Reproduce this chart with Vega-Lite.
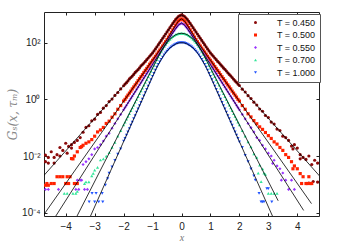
{
"$schema": "https://vega.github.io/schema/vega-lite/v6.json",
"width": 275, "height": 204,
"autosize": {"type": "none"},
"padding": {"left": 44, "top": 12, "right": 21, "bottom": 28},
"background": "white",
"config": {"view": {"stroke": "#222", "strokeWidth": 1}},
"datasets": {
"pts": [
{"T":"T = 0.450","x":-4.7,"G":0.0107},{"T":"T = 0.450","x":-4.7,"G":0.00631},{"T":"T = 0.450","x":-4.6,"G":0.00891},{"T":"T = 0.450","x":-4.6,"G":0.00562},{"T":"T = 0.450","x":-4.5,"G":0.0141},{"T":"T = 0.450","x":-4.4,"G":0.00891},{"T":"T = 0.450","x":-4.4,"G":0.00562},{"T":"T = 0.450","x":-4.3,"G":0.0112},{"T":"T = 0.450","x":-4.2,"G":0.02},{"T":"T = 0.450","x":-4.2,"G":0.01},{"T":"T = 0.450","x":-4.1,"G":0.0158},{"T":"T = 0.450","x":-4.0,"G":0.0282},{"T":"T = 0.450","x":-3.95,"G":0.0126},{"T":"T = 0.450","x":-3.9,"G":0.0219},{"T":"T = 0.450","x":-3.8,"G":0.0251},{"T":"T = 0.450","x":-3.8,"G":0.0191},{"T":"T = 0.450","x":-3.7,"G":0.0302},{"T":"T = 0.450","x":-3.6,"G":0.0355},{"T":"T = 0.450","x":-3.5,"G":0.0447},{"T":"T = 0.450","x":-3.4,"G":0.0692},{"T":"T = 0.450","x":-3.3,"G":0.102},{"T":"T = 0.450","x":-3.2,"G":0.117},{"T":"T = 0.450","x":-3.1,"G":0.174},{"T":"T = 0.450","x":-3.0,"G":0.2},{"T":"T = 0.450","x":-2.9,"G":0.295},{"T":"T = 0.450","x":-2.8,"G":0.347},{"T":"T = 0.450","x":-2.7,"G":0.49},{"T":"T = 0.450","x":-2.6,"G":0.603},{"T":"T = 0.450","x":-2.5,"G":0.832},{"T":"T = 0.450","x":-2.4,"G":1.02},{"T":"T = 0.450","x":-2.3,"G":1.38},{"T":"T = 0.450","x":-2.2,"G":1.74},{"T":"T = 0.450","x":-2.1,"G":2.34},{"T":"T = 0.450","x":-2.0,"G":3.02},{"T":"T = 0.450","x":-1.9,"G":3.89},{"T":"T = 0.450","x":-1.8,"G":5.25},{"T":"T = 0.450","x":-1.7,"G":6.61},{"T":"T = 0.450","x":-1.6,"G":8.91},{"T":"T = 0.450","x":-1.5,"G":11.2},{"T":"T = 0.450","x":-1.4,"G":15.1},{"T":"T = 0.450","x":-1.3,"G":19.1},{"T":"T = 0.450","x":-1.2,"G":25.1},{"T":"T = 0.450","x":-1.1,"G":33.1},{"T":"T = 0.450","x":-1.0,"G":43.7},{"T":"T = 0.450","x":-0.9,"G":60.3},{"T":"T = 0.450","x":-0.8,"G":85.1},{"T":"T = 0.450","x":-0.7,"G":120},{"T":"T = 0.450","x":-0.6,"G":170},{"T":"T = 0.450","x":-0.5,"G":240},{"T":"T = 0.450","x":-0.4,"G":339},{"T":"T = 0.450","x":-0.3,"G":479},{"T":"T = 0.450","x":-0.2,"G":661},{"T":"T = 0.450","x":-0.1,"G":851},{"T":"T = 0.450","x":0,"G":955},{"T":"T = 0.450","x":0.1,"G":851},{"T":"T = 0.450","x":0.2,"G":661},{"T":"T = 0.450","x":0.3,"G":479},{"T":"T = 0.450","x":0.4,"G":339},{"T":"T = 0.450","x":0.5,"G":240},{"T":"T = 0.450","x":0.6,"G":170},{"T":"T = 0.450","x":0.7,"G":120},{"T":"T = 0.450","x":0.8,"G":85.1},{"T":"T = 0.450","x":0.9,"G":60.3},{"T":"T = 0.450","x":1.0,"G":43.7},{"T":"T = 0.450","x":1.1,"G":33.1},{"T":"T = 0.450","x":1.2,"G":25.1},{"T":"T = 0.450","x":1.3,"G":19.5},{"T":"T = 0.450","x":1.4,"G":14.8},{"T":"T = 0.450","x":1.5,"G":11.5},{"T":"T = 0.450","x":1.6,"G":8.71},{"T":"T = 0.450","x":1.7,"G":6.76},{"T":"T = 0.450","x":1.8,"G":5.13},{"T":"T = 0.450","x":1.9,"G":3.98},{"T":"T = 0.450","x":2.0,"G":3.09},{"T":"T = 0.450","x":2.1,"G":2.29},{"T":"T = 0.450","x":2.2,"G":1.82},{"T":"T = 0.450","x":2.3,"G":1.35},{"T":"T = 0.450","x":2.4,"G":1.07},{"T":"T = 0.450","x":2.5,"G":0.794},{"T":"T = 0.450","x":2.6,"G":0.631},{"T":"T = 0.450","x":2.7,"G":0.457},{"T":"T = 0.450","x":2.8,"G":0.38},{"T":"T = 0.450","x":2.9,"G":0.269},{"T":"T = 0.450","x":3.0,"G":0.229},{"T":"T = 0.450","x":3.1,"G":0.158},{"T":"T = 0.450","x":3.2,"G":0.135},{"T":"T = 0.450","x":3.3,"G":0.0891},{"T":"T = 0.450","x":3.4,"G":0.0794},{"T":"T = 0.450","x":3.5,"G":0.0501},{"T":"T = 0.450","x":3.6,"G":0.0447},{"T":"T = 0.450","x":3.7,"G":0.0355},{"T":"T = 0.450","x":3.8,"G":0.0224},{"T":"T = 0.450","x":3.85,"G":0.0178},{"T":"T = 0.450","x":3.9,"G":0.0251},{"T":"T = 0.450","x":4.0,"G":0.0191},{"T":"T = 0.450","x":4.1,"G":0.0112},{"T":"T = 0.450","x":4.1,"G":0.00794},{"T":"T = 0.450","x":4.2,"G":0.00891},{"T":"T = 0.450","x":4.3,"G":0.00759},{"T":"T = 0.450","x":4.4,"G":0.01},{"T":"T = 0.450","x":4.4,"G":0.00112},{"T":"T = 0.450","x":4.5,"G":0.00501},{"T":"T = 0.450","x":4.55,"G":0.00126},{"T":"T = 0.450","x":4.6,"G":0.00708},{"T":"T = 0.450","x":4.7,"G":0.00562},{"T":"T = 0.450","x":4.7,"G":0.0012},
{"T":"T = 0.450","x":0.05,"G":912},{"T":"T = 0.450","x":0.15,"G":759},{"T":"T = 0.450","x":0.25,"G":562},{"T":"T = 0.450","x":0.35,"G":403},{"T":"T = 0.450","x":0.45,"G":285},{"T":"T = 0.450","x":0.55,"G":202},{"T":"T = 0.450","x":0.65,"G":143},{"T":"T = 0.450","x":0.75,"G":101},{"T":"T = 0.450","x":0.85,"G":71.6},{"T":"T = 0.450","x":0.95,"G":51.3},{"T":"T = 0.450","x":1.05,"G":38.0},{"T":"T = 0.450","x":1.15,"G":28.8},{"T":"T = 0.450","x":1.25,"G":21.9},{"T":"T = 0.450","x":1.35,"G":17.0},{"T":"T = 0.450","x":1.45,"G":12.9},{"T":"T = 0.450","x":1.55,"G":10.0},{"T":"T = 0.450","x":1.65,"G":7.59},{"T":"T = 0.450","x":1.75,"G":5.89},{"T":"T = 0.450","x":1.85,"G":4.47},{"T":"T = 0.450","x":1.95,"G":3.47},
{"T":"T = 0.450","x":-0.05,"G":912},{"T":"T = 0.450","x":-0.15,"G":759},{"T":"T = 0.450","x":-0.25,"G":562},{"T":"T = 0.450","x":-0.35,"G":403},{"T":"T = 0.450","x":-0.45,"G":285},{"T":"T = 0.450","x":-0.55,"G":202},{"T":"T = 0.450","x":-0.65,"G":143},{"T":"T = 0.450","x":-0.75,"G":101},{"T":"T = 0.450","x":-0.85,"G":71.6},{"T":"T = 0.450","x":-0.95,"G":51.3},{"T":"T = 0.450","x":-1.05,"G":38.0},{"T":"T = 0.450","x":-1.15,"G":28.8},{"T":"T = 0.450","x":-1.25,"G":21.9},{"T":"T = 0.450","x":-1.35,"G":17.0},{"T":"T = 0.450","x":-1.45,"G":12.9},{"T":"T = 0.450","x":-1.55,"G":10.0},{"T":"T = 0.450","x":-1.65,"G":7.59},{"T":"T = 0.450","x":-1.75,"G":5.89},{"T":"T = 0.450","x":-1.85,"G":4.47},{"T":"T = 0.450","x":-1.95,"G":3.47},
{"T":"T = 0.500","x":-4.7,"G":0.00093},{"T":"T = 0.500","x":-4.65,"G":0.00107},{"T":"T = 0.500","x":-4.6,"G":0.00093},{"T":"T = 0.500","x":-4.5,"G":0.00107},{"T":"T = 0.500","x":-4.4,"G":0.00107},{"T":"T = 0.500","x":-4.3,"G":0.00186},{"T":"T = 0.500","x":-4.2,"G":0.00186},{"T":"T = 0.500","x":-4.1,"G":0.00186},{"T":"T = 0.500","x":-4.0,"G":0.00107},{"T":"T = 0.500","x":-3.95,"G":0.00186},{"T":"T = 0.500","x":-3.9,"G":0.00107},{"T":"T = 0.500","x":-3.85,"G":0.00186},{"T":"T = 0.500","x":-3.7,"G":0.00107},{"T":"T = 0.500","x":-3.6,"G":0.00107},{"T":"T = 0.500","x":-3.8,"G":0.00813},{"T":"T = 0.500","x":-3.75,"G":0.00794},{"T":"T = 0.500","x":-3.7,"G":0.01},{"T":"T = 0.500","x":-3.6,"G":0.0141},{"T":"T = 0.500","x":-3.5,"G":0.02},{"T":"T = 0.500","x":-3.45,"G":0.0214},{"T":"T = 0.500","x":-3.4,"G":0.024},{"T":"T = 0.500","x":-3.3,"G":0.0282},{"T":"T = 0.500","x":-3.2,"G":0.0316},{"T":"T = 0.500","x":-3.1,"G":0.038},{"T":"T = 0.500","x":-3.0,"G":0.0501},{"T":"T = 0.500","x":-2.9,"G":0.0708},{"T":"T = 0.500","x":-2.8,"G":0.0832},{"T":"T = 0.500","x":-2.7,"G":0.102},{"T":"T = 0.500","x":-2.6,"G":0.141},{"T":"T = 0.500","x":-2.5,"G":0.17},{"T":"T = 0.500","x":-2.4,"G":0.234},{"T":"T = 0.500","x":-2.3,"G":0.309},{"T":"T = 0.500","x":-2.2,"G":0.447},{"T":"T = 0.500","x":-2.1,"G":0.603},{"T":"T = 0.500","x":-2.0,"G":0.871},{"T":"T = 0.500","x":-1.9,"G":1.2},{"T":"T = 0.500","x":-1.8,"G":1.66},{"T":"T = 0.500","x":-1.7,"G":2.34},{"T":"T = 0.500","x":-1.6,"G":3.24},{"T":"T = 0.500","x":-1.5,"G":4.57},{"T":"T = 0.500","x":-1.4,"G":6.31},{"T":"T = 0.500","x":-1.3,"G":8.91},{"T":"T = 0.500","x":-1.2,"G":12.3},{"T":"T = 0.500","x":-1.1,"G":17.4},{"T":"T = 0.500","x":-1.0,"G":24.0},{"T":"T = 0.500","x":-0.9,"G":33.1},{"T":"T = 0.500","x":-0.8,"G":46.8},{"T":"T = 0.500","x":-0.7,"G":64.6},{"T":"T = 0.500","x":-0.6,"G":91.2},{"T":"T = 0.500","x":-0.5,"G":129},{"T":"T = 0.500","x":-0.4,"G":191},{"T":"T = 0.500","x":-0.3,"G":282},{"T":"T = 0.500","x":-0.2,"G":417},{"T":"T = 0.500","x":-0.1,"G":589},{"T":"T = 0.500","x":0,"G":692},{"T":"T = 0.500","x":0.1,"G":589},{"T":"T = 0.500","x":0.2,"G":417},{"T":"T = 0.500","x":0.3,"G":282},{"T":"T = 0.500","x":0.4,"G":191},{"T":"T = 0.500","x":0.5,"G":129},{"T":"T = 0.500","x":0.6,"G":91.2},{"T":"T = 0.500","x":0.7,"G":64.6},{"T":"T = 0.500","x":0.8,"G":46.8},{"T":"T = 0.500","x":0.9,"G":33.1},{"T":"T = 0.500","x":1.0,"G":24.0},{"T":"T = 0.500","x":1.1,"G":17.4},{"T":"T = 0.500","x":1.2,"G":12.3},{"T":"T = 0.500","x":1.3,"G":8.91},{"T":"T = 0.500","x":1.4,"G":6.31},{"T":"T = 0.500","x":1.5,"G":4.57},{"T":"T = 0.500","x":1.6,"G":3.24},{"T":"T = 0.500","x":1.7,"G":2.34},{"T":"T = 0.500","x":1.8,"G":1.66},{"T":"T = 0.500","x":1.9,"G":1.2},{"T":"T = 0.500","x":2.0,"G":0.871},{"T":"T = 0.500","x":2.1,"G":0.603},{"T":"T = 0.500","x":2.2,"G":0.447},{"T":"T = 0.500","x":2.3,"G":0.309},{"T":"T = 0.500","x":2.4,"G":0.24},{"T":"T = 0.500","x":2.5,"G":0.178},{"T":"T = 0.500","x":2.6,"G":0.138},{"T":"T = 0.500","x":2.7,"G":0.107},{"T":"T = 0.500","x":2.8,"G":0.0871},{"T":"T = 0.500","x":2.9,"G":0.0676},{"T":"T = 0.500","x":3.0,"G":0.0525},{"T":"T = 0.500","x":3.1,"G":0.0417},{"T":"T = 0.500","x":3.2,"G":0.0316},{"T":"T = 0.500","x":3.3,"G":0.0263},{"T":"T = 0.500","x":3.4,"G":0.02},{"T":"T = 0.500","x":3.5,"G":0.0158},{"T":"T = 0.500","x":3.6,"G":0.0112},{"T":"T = 0.500","x":3.7,"G":0.00891},{"T":"T = 0.500","x":3.8,"G":0.00631},{"T":"T = 0.500","x":3.85,"G":0.00355},{"T":"T = 0.500","x":3.9,"G":0.00447},{"T":"T = 0.500","x":4.0,"G":0.00355},{"T":"T = 0.500","x":4.1,"G":0.0024},{"T":"T = 0.500","x":4.15,"G":0.00107},{"T":"T = 0.500","x":4.2,"G":0.00186},{"T":"T = 0.500","x":4.3,"G":0.00107},{"T":"T = 0.500","x":4.35,"G":0.00107},{"T":"T = 0.500","x":4.4,"G":0.00186},{"T":"T = 0.500","x":4.45,"G":0.00107},{"T":"T = 0.500","x":4.5,"G":0.00107},
{"T":"T = 0.500","x":0.05,"G":646},{"T":"T = 0.500","x":0.15,"G":501},{"T":"T = 0.500","x":0.25,"G":343},{"T":"T = 0.500","x":0.35,"G":232},{"T":"T = 0.500","x":0.45,"G":157},{"T":"T = 0.500","x":0.55,"G":108},{"T":"T = 0.500","x":0.65,"G":76.7},{"T":"T = 0.500","x":0.75,"G":55.0},{"T":"T = 0.500","x":0.85,"G":39.4},{"T":"T = 0.500","x":0.95,"G":28.2},{"T":"T = 0.500","x":1.05,"G":20.4},{"T":"T = 0.500","x":1.15,"G":14.5},{"T":"T = 0.500","x":1.25,"G":10.5},{"T":"T = 0.500","x":1.35,"G":7.41},{"T":"T = 0.500","x":1.45,"G":5.37},{"T":"T = 0.500","x":1.55,"G":3.8},{"T":"T = 0.500","x":1.65,"G":2.75},{"T":"T = 0.500","x":1.75,"G":1.95},{"T":"T = 0.500","x":1.85,"G":1.41},{"T":"T = 0.500","x":1.95,"G":1.0},
{"T":"T = 0.500","x":-0.05,"G":646},{"T":"T = 0.500","x":-0.15,"G":501},{"T":"T = 0.500","x":-0.25,"G":343},{"T":"T = 0.500","x":-0.35,"G":232},{"T":"T = 0.500","x":-0.45,"G":157},{"T":"T = 0.500","x":-0.55,"G":108},{"T":"T = 0.500","x":-0.65,"G":76.7},{"T":"T = 0.500","x":-0.75,"G":55.0},{"T":"T = 0.500","x":-0.85,"G":39.4},{"T":"T = 0.500","x":-0.95,"G":28.2},{"T":"T = 0.500","x":-1.05,"G":20.4},{"T":"T = 0.500","x":-1.15,"G":14.5},{"T":"T = 0.500","x":-1.25,"G":10.5},{"T":"T = 0.500","x":-1.35,"G":7.41},{"T":"T = 0.500","x":-1.45,"G":5.37},{"T":"T = 0.500","x":-1.55,"G":3.8},{"T":"T = 0.500","x":-1.65,"G":2.75},{"T":"T = 0.500","x":-1.75,"G":1.95},{"T":"T = 0.500","x":-1.85,"G":1.41},{"T":"T = 0.500","x":-1.95,"G":1.0},
{"T":"T = 0.550","x":-4.7,"G":0.000661},{"T":"T = 0.550","x":-4.6,"G":0.000661},{"T":"T = 0.550","x":-4.25,"G":0.000661},{"T":"T = 0.550","x":-3.65,"G":0.000661},{"T":"T = 0.550","x":-3.55,"G":0.000661},{"T":"T = 0.550","x":-3.35,"G":0.000661},{"T":"T = 0.550","x":-3.25,"G":0.000661},{"T":"T = 0.550","x":-3.6,"G":0.00141},{"T":"T = 0.550","x":-3.5,"G":0.00141},{"T":"T = 0.550","x":-3.45,"G":0.00141},{"T":"T = 0.550","x":-3.4,"G":0.00501},{"T":"T = 0.550","x":-3.3,"G":0.00631},{"T":"T = 0.550","x":-3.2,"G":0.00794},{"T":"T = 0.550","x":-3.1,"G":0.0112},{"T":"T = 0.550","x":-3.0,"G":0.0178},{"T":"T = 0.550","x":-2.9,"G":0.02},{"T":"T = 0.550","x":-2.8,"G":0.0251},{"T":"T = 0.550","x":-2.7,"G":0.0339},{"T":"T = 0.550","x":-2.6,"G":0.0501},{"T":"T = 0.550","x":-2.5,"G":0.0631},{"T":"T = 0.550","x":-2.4,"G":0.0955},{"T":"T = 0.550","x":-2.3,"G":0.141},{"T":"T = 0.550","x":-2.2,"G":0.204},{"T":"T = 0.550","x":-2.1,"G":0.295},{"T":"T = 0.550","x":-2.0,"G":0.427},{"T":"T = 0.550","x":-1.9,"G":0.617},{"T":"T = 0.550","x":-1.8,"G":0.891},{"T":"T = 0.550","x":-1.7,"G":1.29},{"T":"T = 0.550","x":-1.6,"G":1.86},{"T":"T = 0.550","x":-1.5,"G":2.69},{"T":"T = 0.550","x":-1.4,"G":3.89},{"T":"T = 0.550","x":-1.3,"G":5.62},{"T":"T = 0.550","x":-1.2,"G":8.13},{"T":"T = 0.550","x":-1.1,"G":11.7},{"T":"T = 0.550","x":-1.0,"G":17.0},{"T":"T = 0.550","x":-0.9,"G":24.5},{"T":"T = 0.550","x":-0.8,"G":35.5},{"T":"T = 0.550","x":-0.7,"G":51.3},{"T":"T = 0.550","x":-0.6,"G":74.1},{"T":"T = 0.550","x":-0.5,"G":107},{"T":"T = 0.550","x":-0.4,"G":155},{"T":"T = 0.550","x":-0.3,"G":224},{"T":"T = 0.550","x":-0.2,"G":316},{"T":"T = 0.550","x":-0.1,"G":427},{"T":"T = 0.550","x":0,"G":490},{"T":"T = 0.550","x":0.1,"G":427},{"T":"T = 0.550","x":0.2,"G":316},{"T":"T = 0.550","x":0.3,"G":224},{"T":"T = 0.550","x":0.4,"G":155},{"T":"T = 0.550","x":0.5,"G":107},{"T":"T = 0.550","x":0.6,"G":74.1},{"T":"T = 0.550","x":0.7,"G":51.3},{"T":"T = 0.550","x":0.8,"G":35.5},{"T":"T = 0.550","x":0.9,"G":24.5},{"T":"T = 0.550","x":1.0,"G":17.0},{"T":"T = 0.550","x":1.1,"G":11.7},{"T":"T = 0.550","x":1.2,"G":8.13},{"T":"T = 0.550","x":1.3,"G":5.62},{"T":"T = 0.550","x":1.4,"G":3.89},{"T":"T = 0.550","x":1.5,"G":2.69},{"T":"T = 0.550","x":1.6,"G":1.86},{"T":"T = 0.550","x":1.7,"G":1.29},{"T":"T = 0.550","x":1.8,"G":0.891},{"T":"T = 0.550","x":1.9,"G":0.617},{"T":"T = 0.550","x":2.0,"G":0.427},{"T":"T = 0.550","x":2.1,"G":0.295},{"T":"T = 0.550","x":2.2,"G":0.204},{"T":"T = 0.550","x":2.3,"G":0.141},{"T":"T = 0.550","x":2.4,"G":0.1},{"T":"T = 0.550","x":2.5,"G":0.0708},{"T":"T = 0.550","x":2.6,"G":0.0447},{"T":"T = 0.550","x":2.7,"G":0.0355},{"T":"T = 0.550","x":2.8,"G":0.024},{"T":"T = 0.550","x":2.9,"G":0.0178},{"T":"T = 0.550","x":3.0,"G":0.0126},{"T":"T = 0.550","x":3.1,"G":0.01},{"T":"T = 0.550","x":3.15,"G":0.0055},{"T":"T = 0.550","x":3.2,"G":0.00708},{"T":"T = 0.550","x":3.3,"G":0.00447},{"T":"T = 0.550","x":3.4,"G":0.00355},{"T":"T = 0.550","x":3.45,"G":0.00141},{"T":"T = 0.550","x":3.5,"G":0.00251},{"T":"T = 0.550","x":3.6,"G":0.00141},{"T":"T = 0.550","x":3.8,"G":0.00141},{"T":"T = 0.550","x":3.7,"G":0.000661},{"T":"T = 0.550","x":3.9,"G":0.000661},
{"T":"T = 0.550","x":0.05,"G":457},{"T":"T = 0.550","x":0.15,"G":367},{"T":"T = 0.550","x":0.25,"G":266},{"T":"T = 0.550","x":0.35,"G":186},{"T":"T = 0.550","x":0.45,"G":129},{"T":"T = 0.550","x":0.55,"G":89.1},{"T":"T = 0.550","x":0.65,"G":61.7},{"T":"T = 0.550","x":0.75,"G":42.7},{"T":"T = 0.550","x":0.85,"G":29.5},{"T":"T = 0.550","x":0.95,"G":20.4},{"T":"T = 0.550","x":1.05,"G":14.1},{"T":"T = 0.550","x":1.15,"G":9.77},{"T":"T = 0.550","x":1.25,"G":6.76},{"T":"T = 0.550","x":1.35,"G":4.68},{"T":"T = 0.550","x":1.45,"G":3.24},{"T":"T = 0.550","x":1.55,"G":2.24},{"T":"T = 0.550","x":1.65,"G":1.55},{"T":"T = 0.550","x":1.75,"G":1.07},{"T":"T = 0.550","x":1.85,"G":0.741},{"T":"T = 0.550","x":1.95,"G":0.513},
{"T":"T = 0.550","x":-0.05,"G":457},{"T":"T = 0.550","x":-0.15,"G":367},{"T":"T = 0.550","x":-0.25,"G":266},{"T":"T = 0.550","x":-0.35,"G":186},{"T":"T = 0.550","x":-0.45,"G":129},{"T":"T = 0.550","x":-0.55,"G":89.1},{"T":"T = 0.550","x":-0.65,"G":61.7},{"T":"T = 0.550","x":-0.75,"G":42.7},{"T":"T = 0.550","x":-0.85,"G":29.5},{"T":"T = 0.550","x":-0.95,"G":20.4},{"T":"T = 0.550","x":-1.05,"G":14.1},{"T":"T = 0.550","x":-1.15,"G":9.77},{"T":"T = 0.550","x":-1.25,"G":6.76},{"T":"T = 0.550","x":-1.35,"G":4.68},{"T":"T = 0.550","x":-1.45,"G":3.24},{"T":"T = 0.550","x":-1.55,"G":2.24},{"T":"T = 0.550","x":-1.65,"G":1.55},{"T":"T = 0.550","x":-1.75,"G":1.07},{"T":"T = 0.550","x":-1.85,"G":0.741},{"T":"T = 0.550","x":-1.95,"G":0.513},
{"T":"T = 0.700","x":-4.05,"G":0.000479},{"T":"T = 0.700","x":-3.95,"G":0.000479},{"T":"T = 0.700","x":-3.75,"G":0.000479},{"T":"T = 0.700","x":-3.65,"G":0.000479},{"T":"T = 0.700","x":-3.6,"G":0.000562},{"T":"T = 0.700","x":-3.35,"G":0.00107},{"T":"T = 0.700","x":-3.3,"G":0.00123},{"T":"T = 0.700","x":-3.2,"G":0.00123},{"T":"T = 0.700","x":-3.1,"G":0.002},{"T":"T = 0.700","x":-3.05,"G":0.00245},{"T":"T = 0.700","x":-3.0,"G":0.00316},{"T":"T = 0.700","x":-2.9,"G":0.00398},{"T":"T = 0.700","x":-2.8,"G":0.00724},{"T":"T = 0.700","x":-2.7,"G":0.00794},{"T":"T = 0.700","x":-2.6,"G":0.01},{"T":"T = 0.700","x":-2.5,"G":0.0132},{"T":"T = 0.700","x":-2.4,"G":0.02},{"T":"T = 0.700","x":-2.3,"G":0.0302},{"T":"T = 0.700","x":-2.2,"G":0.0501},{"T":"T = 0.700","x":-2.1,"G":0.0794},{"T":"T = 0.700","x":-2.0,"G":0.126},{"T":"T = 0.700","x":-1.9,"G":0.2},{"T":"T = 0.700","x":-1.8,"G":0.316},{"T":"T = 0.700","x":-1.7,"G":0.501},{"T":"T = 0.700","x":-1.6,"G":0.794},{"T":"T = 0.700","x":-1.5,"G":1.26},{"T":"T = 0.700","x":-1.4,"G":2.0},{"T":"T = 0.700","x":-1.3,"G":3.16},{"T":"T = 0.700","x":-1.2,"G":5.01},{"T":"T = 0.700","x":-1.1,"G":7.94},{"T":"T = 0.700","x":-1.0,"G":12.6},{"T":"T = 0.700","x":-0.9,"G":20.0},{"T":"T = 0.700","x":-0.8,"G":31.6},{"T":"T = 0.700","x":-0.7,"G":49.0},{"T":"T = 0.700","x":-0.6,"G":72.4},{"T":"T = 0.700","x":-0.5,"G":100},{"T":"T = 0.700","x":-0.4,"G":132},{"T":"T = 0.700","x":-0.3,"G":162},{"T":"T = 0.700","x":-0.2,"G":191},{"T":"T = 0.700","x":-0.1,"G":209},{"T":"T = 0.700","x":0,"G":214},{"T":"T = 0.700","x":0.1,"G":209},{"T":"T = 0.700","x":0.2,"G":191},{"T":"T = 0.700","x":0.3,"G":162},{"T":"T = 0.700","x":0.4,"G":132},{"T":"T = 0.700","x":0.5,"G":100},{"T":"T = 0.700","x":0.6,"G":72.4},{"T":"T = 0.700","x":0.7,"G":49.0},{"T":"T = 0.700","x":0.8,"G":31.6},{"T":"T = 0.700","x":0.9,"G":20.0},{"T":"T = 0.700","x":1.0,"G":12.6},{"T":"T = 0.700","x":1.1,"G":7.94},{"T":"T = 0.700","x":1.2,"G":5.01},{"T":"T = 0.700","x":1.3,"G":3.16},{"T":"T = 0.700","x":1.4,"G":2.0},{"T":"T = 0.700","x":1.5,"G":1.26},{"T":"T = 0.700","x":1.6,"G":0.794},{"T":"T = 0.700","x":1.7,"G":0.501},{"T":"T = 0.700","x":1.8,"G":0.316},{"T":"T = 0.700","x":1.9,"G":0.2},{"T":"T = 0.700","x":2.0,"G":0.126},{"T":"T = 0.700","x":2.1,"G":0.0794},{"T":"T = 0.700","x":2.2,"G":0.0501},{"T":"T = 0.700","x":2.3,"G":0.0316},{"T":"T = 0.700","x":2.4,"G":0.0209},{"T":"T = 0.700","x":2.5,"G":0.012},{"T":"T = 0.700","x":2.6,"G":0.00891},{"T":"T = 0.700","x":2.65,"G":0.00251},{"T":"T = 0.700","x":2.7,"G":0.00479},{"T":"T = 0.700","x":2.75,"G":0.00126},{"T":"T = 0.700","x":2.8,"G":0.00355},{"T":"T = 0.700","x":2.85,"G":0.00251},{"T":"T = 0.700","x":2.9,"G":0.00224},{"T":"T = 0.700","x":3.0,"G":0.000479},{"T":"T = 0.700","x":3.1,"G":0.000479},{"T":"T = 0.700","x":3.2,"G":0.000479},{"T":"T = 0.700","x":3.3,"G":0.000479},
{"T":"T = 0.700","x":0.05,"G":212},{"T":"T = 0.700","x":0.15,"G":200},{"T":"T = 0.700","x":0.25,"G":178},{"T":"T = 0.700","x":0.35,"G":148},{"T":"T = 0.700","x":0.45,"G":117},{"T":"T = 0.700","x":0.55,"G":87.1},{"T":"T = 0.700","x":0.65,"G":60.3},{"T":"T = 0.700","x":0.75,"G":39.8},{"T":"T = 0.700","x":0.85,"G":25.1},{"T":"T = 0.700","x":0.95,"G":15.8},{"T":"T = 0.700","x":1.05,"G":10.0},{"T":"T = 0.700","x":1.15,"G":6.31},{"T":"T = 0.700","x":1.25,"G":3.98},{"T":"T = 0.700","x":1.35,"G":2.51},{"T":"T = 0.700","x":1.45,"G":1.58},{"T":"T = 0.700","x":1.55,"G":1.0},{"T":"T = 0.700","x":1.65,"G":0.631},{"T":"T = 0.700","x":1.75,"G":0.398},{"T":"T = 0.700","x":1.85,"G":0.251},{"T":"T = 0.700","x":1.95,"G":0.158},
{"T":"T = 0.700","x":-0.05,"G":212},{"T":"T = 0.700","x":-0.15,"G":200},{"T":"T = 0.700","x":-0.25,"G":178},{"T":"T = 0.700","x":-0.35,"G":148},{"T":"T = 0.700","x":-0.45,"G":117},{"T":"T = 0.700","x":-0.55,"G":87.1},{"T":"T = 0.700","x":-0.65,"G":60.3},{"T":"T = 0.700","x":-0.75,"G":39.8},{"T":"T = 0.700","x":-0.85,"G":25.1},{"T":"T = 0.700","x":-0.95,"G":15.8},{"T":"T = 0.700","x":-1.05,"G":10.0},{"T":"T = 0.700","x":-1.15,"G":6.31},{"T":"T = 0.700","x":-1.25,"G":3.98},{"T":"T = 0.700","x":-1.35,"G":2.51},{"T":"T = 0.700","x":-1.45,"G":1.58},{"T":"T = 0.700","x":-1.55,"G":1.0},{"T":"T = 0.700","x":-1.65,"G":0.631},{"T":"T = 0.700","x":-1.75,"G":0.398},{"T":"T = 0.700","x":-1.85,"G":0.251},{"T":"T = 0.700","x":-1.95,"G":0.158},
{"T":"T = 1.000","x":-3.19,"G":0.00024},{"T":"T = 1.000","x":-3.09,"G":0.000479},{"T":"T = 1.000","x":-3.0,"G":0.00024},{"T":"T = 1.000","x":-2.95,"G":0.000479},{"T":"T = 1.000","x":-2.86,"G":0.00024},{"T":"T = 1.000","x":-2.74,"G":0.000479},{"T":"T = 1.000","x":-2.72,"G":0.00024},{"T":"T = 1.000","x":-2.63,"G":0.000933},{"T":"T = 1.000","x":-2.55,"G":0.00158},{"T":"T = 1.000","x":-2.5,"G":0.00251},{"T":"T = 1.000","x":-2.4,"G":0.00417},{"T":"T = 1.000","x":-2.3,"G":0.00708},{"T":"T = 1.000","x":-2.2,"G":0.0117},{"T":"T = 1.000","x":-2.1,"G":0.0178},{"T":"T = 1.000","x":-2.0,"G":0.0339},{"T":"T = 1.000","x":-1.9,"G":0.055},{"T":"T = 1.000","x":-1.8,"G":0.0933},{"T":"T = 1.000","x":-1.7,"G":0.158},{"T":"T = 1.000","x":-1.6,"G":0.269},{"T":"T = 1.000","x":-1.5,"G":0.457},{"T":"T = 1.000","x":-1.4,"G":0.776},{"T":"T = 1.000","x":-1.3,"G":1.32},{"T":"T = 1.000","x":-1.2,"G":2.24},{"T":"T = 1.000","x":-1.1,"G":3.8},{"T":"T = 1.000","x":-1.0,"G":6.46},{"T":"T = 1.000","x":-0.9,"G":10.7},{"T":"T = 1.000","x":-0.8,"G":17.0},{"T":"T = 1.000","x":-0.7,"G":25.7},{"T":"T = 1.000","x":-0.6,"G":37.2},{"T":"T = 1.000","x":-0.5,"G":50.1},{"T":"T = 1.000","x":-0.4,"G":64.6},{"T":"T = 1.000","x":-0.3,"G":77.6},{"T":"T = 1.000","x":-0.2,"G":89.1},{"T":"T = 1.000","x":-0.1,"G":97.7},{"T":"T = 1.000","x":0,"G":100},{"T":"T = 1.000","x":0.1,"G":97.7},{"T":"T = 1.000","x":0.2,"G":89.1},{"T":"T = 1.000","x":0.3,"G":77.6},{"T":"T = 1.000","x":0.4,"G":64.6},{"T":"T = 1.000","x":0.5,"G":50.1},{"T":"T = 1.000","x":0.6,"G":37.2},{"T":"T = 1.000","x":0.7,"G":25.7},{"T":"T = 1.000","x":0.8,"G":17.0},{"T":"T = 1.000","x":0.9,"G":10.7},{"T":"T = 1.000","x":1.0,"G":6.46},{"T":"T = 1.000","x":1.1,"G":3.8},{"T":"T = 1.000","x":1.2,"G":2.24},{"T":"T = 1.000","x":1.3,"G":1.32},{"T":"T = 1.000","x":1.4,"G":0.776},{"T":"T = 1.000","x":1.5,"G":0.457},{"T":"T = 1.000","x":1.6,"G":0.269},{"T":"T = 1.000","x":1.7,"G":0.158},{"T":"T = 1.000","x":1.8,"G":0.0933},{"T":"T = 1.000","x":1.9,"G":0.055},{"T":"T = 1.000","x":2.0,"G":0.0316},{"T":"T = 1.000","x":2.1,"G":0.02},{"T":"T = 1.000","x":2.2,"G":0.0105},{"T":"T = 1.000","x":2.3,"G":0.00631},{"T":"T = 1.000","x":2.4,"G":0.00355},{"T":"T = 1.000","x":2.5,"G":0.002},{"T":"T = 1.000","x":2.55,"G":0.00141},{"T":"T = 1.000","x":2.68,"G":0.000479},{"T":"T = 1.000","x":2.75,"G":0.00024},{"T":"T = 1.000","x":2.8,"G":0.00024},{"T":"T = 1.000","x":2.85,"G":0.00024},{"T":"T = 1.000","x":2.95,"G":0.000708},{"T":"T = 1.000","x":3.0,"G":0.000708},{"T":"T = 1.000","x":3.12,"G":0.00024},
{"T":"T = 1.000","x":0.05,"G":99.3},{"T":"T = 1.000","x":0.15,"G":94.0},{"T":"T = 1.000","x":0.25,"G":84.1},{"T":"T = 1.000","x":0.35,"G":71.3},{"T":"T = 1.000","x":0.45,"G":57.1},{"T":"T = 1.000","x":0.55,"G":43.4},{"T":"T = 1.000","x":0.65,"G":31.1},{"T":"T = 1.000","x":0.75,"G":21.1},{"T":"T = 1.000","x":0.85,"G":13.6},{"T":"T = 1.000","x":0.95,"G":8.26},{"T":"T = 1.000","x":1.05,"G":4.95},{"T":"T = 1.000","x":1.15,"G":2.92},{"T":"T = 1.000","x":1.25,"G":1.72},{"T":"T = 1.000","x":1.35,"G":1.01},{"T":"T = 1.000","x":1.45,"G":0.596},{"T":"T = 1.000","x":1.55,"G":0.351},{"T":"T = 1.000","x":1.65,"G":0.207},{"T":"T = 1.000","x":1.75,"G":0.122},{"T":"T = 1.000","x":1.85,"G":0.0716},{"T":"T = 1.000","x":1.95,"G":0.0422},
{"T":"T = 1.000","x":-0.05,"G":99.3},{"T":"T = 1.000","x":-0.15,"G":94.0},{"T":"T = 1.000","x":-0.25,"G":84.1},{"T":"T = 1.000","x":-0.35,"G":71.3},{"T":"T = 1.000","x":-0.45,"G":57.1},{"T":"T = 1.000","x":-0.55,"G":43.4},{"T":"T = 1.000","x":-0.65,"G":31.1},{"T":"T = 1.000","x":-0.75,"G":21.1},{"T":"T = 1.000","x":-0.85,"G":13.6},{"T":"T = 1.000","x":-0.95,"G":8.26},{"T":"T = 1.000","x":-1.05,"G":4.95},{"T":"T = 1.000","x":-1.15,"G":2.92},{"T":"T = 1.000","x":-1.25,"G":1.72},{"T":"T = 1.000","x":-1.35,"G":1.01},{"T":"T = 1.000","x":-1.45,"G":0.596},{"T":"T = 1.000","x":-1.55,"G":0.351},{"T":"T = 1.000","x":-1.65,"G":0.207},{"T":"T = 1.000","x":-1.75,"G":0.122},{"T":"T = 1.000","x":-1.85,"G":0.0716},{"T":"T = 1.000","x":-1.95,"G":0.0422}
],
"fit": [
{"T":"T = 0.450","x":-4.8,"G":0.00182},{"T":"T = 0.450","x":-1.2,"G":25.1},{"T":"T = 0.450","x":-1.1,"G":33.1},{"T":"T = 0.450","x":-1.0,"G":43.7},{"T":"T = 0.450","x":-0.9,"G":60.3},{"T":"T = 0.450","x":-0.8,"G":85.1},{"T":"T = 0.450","x":-0.7,"G":120},{"T":"T = 0.450","x":-0.6,"G":170},{"T":"T = 0.450","x":-0.5,"G":240},{"T":"T = 0.450","x":-0.4,"G":339},{"T":"T = 0.450","x":-0.3,"G":479},{"T":"T = 0.450","x":-0.2,"G":661},{"T":"T = 0.450","x":-0.1,"G":851},{"T":"T = 0.450","x":0,"G":955},{"T":"T = 0.450","x":0.1,"G":851},{"T":"T = 0.450","x":0.2,"G":661},{"T":"T = 0.450","x":0.3,"G":479},{"T":"T = 0.450","x":0.4,"G":339},{"T":"T = 0.450","x":0.5,"G":240},{"T":"T = 0.450","x":0.6,"G":170},{"T":"T = 0.450","x":0.7,"G":120},{"T":"T = 0.450","x":0.8,"G":85.1},{"T":"T = 0.450","x":0.9,"G":60.3},{"T":"T = 0.450","x":1.0,"G":43.7},{"T":"T = 0.450","x":1.1,"G":33.1},{"T":"T = 0.450","x":1.2,"G":25.1},{"T":"T = 0.450","x":4.8,"G":0.00182},
{"T":"T = 0.500","x":-4.8,"G":0.0000741},{"T":"T = 0.500","x":-1.0,"G":24.0},{"T":"T = 0.500","x":-0.9,"G":33.1},{"T":"T = 0.500","x":-0.8,"G":46.8},{"T":"T = 0.500","x":-0.7,"G":64.6},{"T":"T = 0.500","x":-0.6,"G":91.2},{"T":"T = 0.500","x":-0.5,"G":129},{"T":"T = 0.500","x":-0.4,"G":191},{"T":"T = 0.500","x":-0.3,"G":282},{"T":"T = 0.500","x":-0.2,"G":417},{"T":"T = 0.500","x":-0.1,"G":589},{"T":"T = 0.500","x":0,"G":692},{"T":"T = 0.500","x":0.1,"G":589},{"T":"T = 0.500","x":0.2,"G":417},{"T":"T = 0.500","x":0.3,"G":282},{"T":"T = 0.500","x":0.4,"G":191},{"T":"T = 0.500","x":0.5,"G":129},{"T":"T = 0.500","x":0.6,"G":91.2},{"T":"T = 0.500","x":0.7,"G":64.6},{"T":"T = 0.500","x":0.8,"G":46.8},{"T":"T = 0.500","x":0.9,"G":33.1},{"T":"T = 0.500","x":1.0,"G":24.0},{"T":"T = 0.500","x":4.49,"G":0.000209},
{"T":"T = 0.550","x":-4.4,"G":0.0000617},{"T":"T = 0.550","x":-1.0,"G":17.0},{"T":"T = 0.550","x":-0.9,"G":24.5},{"T":"T = 0.550","x":-0.8,"G":35.5},{"T":"T = 0.550","x":-0.7,"G":51.3},{"T":"T = 0.550","x":-0.6,"G":74.1},{"T":"T = 0.550","x":-0.5,"G":107},{"T":"T = 0.550","x":-0.4,"G":155},{"T":"T = 0.550","x":-0.3,"G":224},{"T":"T = 0.550","x":-0.2,"G":316},{"T":"T = 0.550","x":-0.1,"G":427},{"T":"T = 0.550","x":0,"G":490},{"T":"T = 0.550","x":0.1,"G":427},{"T":"T = 0.550","x":0.2,"G":316},{"T":"T = 0.550","x":0.3,"G":224},{"T":"T = 0.550","x":0.4,"G":155},{"T":"T = 0.550","x":0.5,"G":107},{"T":"T = 0.550","x":0.6,"G":74.1},{"T":"T = 0.550","x":0.7,"G":51.3},{"T":"T = 0.550","x":0.8,"G":35.5},{"T":"T = 0.550","x":0.9,"G":24.5},{"T":"T = 0.550","x":1.0,"G":17.0},{"T":"T = 0.550","x":4.22,"G":0.00012},
{"T":"T = 0.700","x":-3.65,"G":0.0000631},{"T":"T = 0.700","x":-0.9,"G":20.0},{"T":"T = 0.700","x":-0.8,"G":31.6},{"T":"T = 0.700","x":-0.7,"G":49.0},{"T":"T = 0.700","x":-0.6,"G":72.4},{"T":"T = 0.700","x":-0.5,"G":100},{"T":"T = 0.700","x":-0.4,"G":132},{"T":"T = 0.700","x":-0.3,"G":162},{"T":"T = 0.700","x":-0.2,"G":191},{"T":"T = 0.700","x":-0.1,"G":209},{"T":"T = 0.700","x":0,"G":214},{"T":"T = 0.700","x":0.1,"G":209},{"T":"T = 0.700","x":0.2,"G":191},{"T":"T = 0.700","x":0.3,"G":162},{"T":"T = 0.700","x":0.4,"G":132},{"T":"T = 0.700","x":0.5,"G":100},{"T":"T = 0.700","x":0.6,"G":72.4},{"T":"T = 0.700","x":0.7,"G":49.0},{"T":"T = 0.700","x":0.8,"G":31.6},{"T":"T = 0.700","x":0.9,"G":20.0},{"T":"T = 0.700","x":3.34,"G":0.000263},
{"T":"T = 1.000","x":-3.2,"G":0.0000562},{"T":"T = 1.000","x":-1.0,"G":6.46},{"T":"T = 1.000","x":-0.9,"G":10.7},{"T":"T = 1.000","x":-0.8,"G":17.0},{"T":"T = 1.000","x":-0.7,"G":25.7},{"T":"T = 1.000","x":-0.6,"G":37.2},{"T":"T = 1.000","x":-0.5,"G":50.1},{"T":"T = 1.000","x":-0.4,"G":64.6},{"T":"T = 1.000","x":-0.3,"G":77.6},{"T":"T = 1.000","x":-0.2,"G":89.1},{"T":"T = 1.000","x":-0.1,"G":97.7},{"T":"T = 1.000","x":0,"G":100},{"T":"T = 1.000","x":0.1,"G":97.7},{"T":"T = 1.000","x":0.2,"G":89.1},{"T":"T = 1.000","x":0.3,"G":77.6},{"T":"T = 1.000","x":0.4,"G":64.6},{"T":"T = 1.000","x":0.5,"G":50.1},{"T":"T = 1.000","x":0.6,"G":37.2},{"T":"T = 1.000","x":0.7,"G":25.7},{"T":"T = 1.000","x":0.8,"G":17.0},{"T":"T = 1.000","x":0.9,"G":10.7},{"T":"T = 1.000","x":1.0,"G":6.46},{"T":"T = 1.000","x":3.2,"G":0.0000562}
]
},
"layer": [
{
"data": {"name": "pts"},
"mark": {"type": "point", "filled": true, "size": 10, "opacity": 1, "strokeWidth": 0, "clip": true},
"encoding": {
"x": {"field": "x", "type": "quantitative",
"scale": {"domain": [-4.75, 4.75], "nice": false, "zero": false},
"axis": {"orient": "bottom", "values": [-4,-3,-2,-1,0,1,2,3,4], "format": "d", "tickSize": -3, "labelPadding": 8, "domain": false, "grid": false, "tickColor": "#222", "labelFont": "Liberation Sans", "labelFontSize": 10, "labelColor": "#222", "title": "x", "titleFont": "Liberation Serif", "titleFontStyle": "italic", "titleFontWeight": "normal", "titleFontSize": 10, "titleColor": "#777", "titlePadding": 1}},
"y": {"field": "G", "type": "quantitative",
"scale": {"type": "log", "domain": [0.0000764, 1211], "nice": false},
"axis": {"orient": "left", "values": [0.0001, 0.01, 1, 100], "labelExpr": "'10' + (datum.value >= 10 ? '²' : datum.value >= 0.5 ? '⁰' : datum.value >= 0.005 ? '⁻²' : '⁻⁴')", "tickSize": -3, "labelPadding": 7, "domain": false, "grid": false, "tickColor": "#222", "labelFont": "Liberation Sans", "labelFontSize": 10, "labelColor": "#222", "title": "Gₛ(x, τₘ)", "titleFont": "DejaVu Serif", "titleFontStyle": "italic", "titleFontWeight": "normal", "titleFontSize": 12, "titleColor": "#888", "titlePadding": 2}},
"color": {"field": "T", "type": "nominal",
"scale": {"domain": ["T = 0.450","T = 0.500","T = 0.550","T = 0.700","T = 1.000"], "range": ["#8b0a0a","#ff2200","#9933ff","#33e69a","#2255ff"]},
"legend": {"title": null, "orient": "none", "legendX": 194, "legendY": 2, "padding": 4, "symbolOffset": 9, "labelOffset": 17, "rowPadding": 2.5, "symbolSize": 9, "labelFont": "Liberation Sans", "labelFontSize": 9, "labelColor": "#111", "fillColor": "white", "strokeColor": "#555"}},
"shape": {"field": "T", "type": "nominal",
"scale": {"domain": ["T = 0.450","T = 0.500","T = 0.550","T = 0.700","T = 1.000"], "range": ["circle","square","diamond","triangle-up","triangle-down"]},
"legend": {"title": null, "orient": "none", "legendX": 194, "legendY": 2, "padding": 4, "symbolOffset": 9, "labelOffset": 17, "rowPadding": 2.5, "symbolSize": 9, "labelFont": "Liberation Sans", "labelFontSize": 9, "labelColor": "#111", "fillColor": "white", "strokeColor": "#555"}}
}
},
{
"data": {"name": "fit"},
"mark": {"type": "line", "color": "black", "strokeWidth": 0.8, "clip": true},
"encoding": {
"x": {"field": "x", "type": "quantitative",
"axis": {"orient": "top", "values": [-4,-3,-2,-1,0,1,2,3,4], "labels": false, "tickSize": -3, "domain": false, "grid": false, "tickColor": "#222", "title": null}},
"y": {"field": "G", "type": "quantitative",
"axis": {"orient": "right", "values": [0.0001, 0.01, 1, 100], "labels": false, "tickSize": -3, "domain": false, "grid": false, "tickColor": "#222", "title": null}},
"detail": {"field": "T", "type": "nominal"}
}
}
],
"resolve": {"axis": {"x": "independent", "y": "independent"}}
}
